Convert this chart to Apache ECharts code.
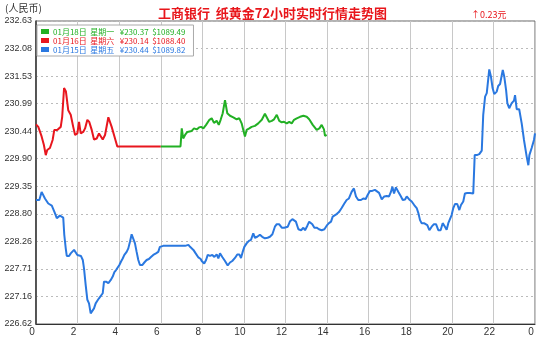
<!DOCTYPE html>
<html>
<head>
<meta charset="utf-8">
<script src="https://cdn.jsdelivr.net/npm/echarts@6/dist/echarts.min.js"></script>
<style>html,body{margin:0;padding:0;background:#fff}#c{width:545px;height:341px}</style>
</head>
<body>
<div id="c"></div>
<script>
var yTickLabels = ['226.62','227.16','227.71','228.26','228.80','229.35','229.90','230.44','230.99','231.53','232.08','232.63'];
var xTickLabels = ['0','2','4','6','8','10','12','14','16','18','20','22','0'];
var seriesNames = ['01月18日  星期一   ¥230.37  $1089.49','01月16日  星期六   ¥230.14  $1088.40','01月15日  星期五   ¥230.44  $1089.82'];

var redHours = [0,0.11,0.27,0.38,0.47,0.54,0.67,0.80,0.88,1.02,1.19,1.26,1.35,1.44,1.55,1.67,1.79,1.88,1.99,2.07,2.15,2.27,2.36,2.47,2.56,2.68,2.79,2.92,3.03,3.11,3.21,3.32,3.48,3.64,3.80,3.91,6.0];
var redValues = [230.58,230.53,230.34,230.17,229.97,230.07,230.11,230.27,230.47,230.47,230.53,230.73,231.30,231.23,230.86,230.77,230.53,230.37,230.40,230.63,230.40,230.43,230.50,230.67,230.63,230.47,230.28,230.30,230.40,230.37,230.28,230.37,230.72,230.53,230.30,230.14,230.14];

var greenHours = [6.0,6.95,7.01,7.08,7.17,7.28,7.37,7.49,7.60,7.73,7.84,7.94,8.05,8.18,8.34,8.45,8.56,8.69,8.79,8.88,8.98,9.09,9.20,9.33,9.49,9.65,9.78,9.89,9.97,10.05,10.13,10.26,10.37,10.53,10.69,10.86,11.01,11.10,11.21,11.34,11.45,11.58,11.70,11.82,11.93,12.06,12.18,12.30,12.41,12.54,12.70,12.86,13.02,13.14,13.31,13.50,13.63,13.74,13.85,13.90,13.98];
var greenValues = [230.14,230.14,230.50,230.30,230.37,230.43,230.40,230.45,230.50,230.48,230.52,230.53,230.50,230.57,230.67,230.70,230.61,230.65,230.57,230.67,230.80,231.06,230.80,230.75,230.72,230.68,230.70,230.60,230.47,230.34,230.47,230.50,230.53,230.55,230.60,230.67,230.79,230.77,230.63,230.65,230.68,230.77,230.65,230.62,230.63,230.60,230.63,230.60,230.67,230.70,230.73,230.75,230.73,230.68,230.57,230.47,230.50,230.57,230.48,230.35,230.37];

var bluePoints = [[0,229.08],[0.03,229.05],[0.16,229.08],[0.27,229.24],[0.35,229.21],[0.43,229.11],[0.51,229.06],[0.59,229.01],[0.67,228.99],[0.76,228.97],[0.83,228.90],[0.91,228.82],[1.00,228.72],[1.07,228.70],[1.15,228.77],[1.24,228.78],[1.31,228.73],[1.36,228.39],[1.43,228.12],[1.48,227.97],[1.59,227.97],[1.67,228.02],[1.75,228.05],[1.83,228.09],[1.91,228.09],[1.99,227.99],[2.07,227.97],[2.16,227.97],[2.25,227.89],[2.31,227.72],[2.39,227.39],[2.47,227.10],[2.55,227.03],[2.63,226.83],[2.67,226.80],[2.72,226.84],[2.79,226.93],[2.87,227.03],[2.95,227.08],[3.03,227.13],[3.11,227.16],[3.21,227.23],[3.27,227.46],[3.37,227.46],[3.48,227.43],[3.59,227.49],[3.69,227.56],[3.77,227.65],[3.85,227.69],[3.93,227.74],[4.01,227.79],[4.09,227.86],[4.17,227.92],[4.25,227.99],[4.36,228.05],[4.44,228.12],[4.52,228.25],[4.60,228.40],[4.68,228.42],[4.76,228.22],[4.84,228.05],[4.92,227.89],[5.00,227.79],[5.11,227.79],[5.21,227.84],[5.32,227.89],[5.43,227.91],[5.53,227.95],[5.64,227.99],[5.77,228.02],[5.88,228.05],[5.96,228.15],[6.12,228.17],[6.93,228.17],[7.01,228.20],[7.17,228.17],[7.33,228.19],[7.41,228.15],[7.57,228.09],[7.68,228.02],[7.81,227.94],[7.92,227.91],[7.97,227.87],[8.09,227.82],[8.18,227.89],[8.26,227.99],[8.37,227.97],[8.48,227.99],[8.58,227.95],[8.69,228.00],[8.77,227.92],[8.85,228.02],[8.96,227.95],[9.09,227.87],[9.22,227.78],[9.33,227.84],[9.44,227.87],[9.57,227.93],[9.68,228.00],[9.78,228.00],[9.86,227.93],[9.94,228.05],[10.02,228.15],[10.13,228.22],[10.24,228.27],[10.34,228.29],[10.45,228.42],[10.53,228.33],[10.64,228.35],[10.77,228.39],[10.88,228.35],[11.01,228.32],[11.14,228.33],[11.25,228.35],[11.37,228.40],[11.49,228.55],[11.58,228.60],[11.69,228.60],[11.82,228.53],[11.94,228.53],[12.11,228.55],[12.22,228.66],[12.33,228.70],[12.42,228.70],[12.50,228.65],[12.62,228.50],[12.75,228.48],[12.86,228.53],[12.94,228.48],[13.05,228.57],[13.14,228.65],[13.23,228.68],[13.29,228.60],[13.39,228.53],[13.50,228.53],[13.61,228.50],[13.74,228.48],[13.87,228.50],[13.98,228.57],[14.09,228.62],[14.19,228.65],[14.27,228.75],[14.35,228.73],[14.46,228.80],[14.57,228.84],[14.70,228.92],[14.83,229.01],[14.94,229.08],[15.05,229.11],[15.18,229.24],[15.29,229.31],[15.39,229.15],[15.50,229.08],[15.63,229.08],[15.74,229.11],[15.86,229.10],[15.95,229.18],[16.06,229.26],[16.17,229.26],[16.30,229.28],[16.39,229.31],[16.50,229.22],[16.63,229.09],[16.75,229.15],[16.87,229.16],[16.98,229.15],[17.07,229.24],[17.14,229.34],[17.22,229.21],[17.31,229.33],[17.43,229.24],[17.54,229.16],[17.64,229.08],[17.75,229.09],[17.83,229.15],[17.95,229.09],[18.07,229.05],[18.19,228.98],[18.31,228.92],[18.39,228.82],[18.47,228.68],[18.55,228.62],[18.66,228.62],[18.74,228.65],[18.82,228.58],[18.92,228.48],[19.03,228.55],[19.14,228.60],[19.24,228.60],[19.35,228.48],[19.46,228.48],[19.56,228.62],[19.67,228.55],[19.75,228.49],[19.83,228.62],[19.91,228.70],[19.99,228.78],[20.07,228.92],[20.15,229.00],[20.26,229.00],[20.36,228.88],[20.44,228.98],[20.55,229.05],[20.63,229.21],[20.74,229.22],[20.87,229.22],[20.96,229.24],[21.03,229.21],[21.10,229.97],[21.20,229.97],[21.32,229.99],[21.44,230.06],[21.51,230.77],[21.60,231.13],[21.68,231.20],[21.72,231.23],[21.80,231.67],[21.88,231.53],[21.96,231.30],[22.04,231.18],[22.16,231.23],[22.23,231.34],[22.32,231.38],[22.45,231.66],[22.52,231.53],[22.61,231.26],[22.67,231.00],[22.76,230.90],[22.88,231.00],[22.99,231.05],[23.04,231.16],[23.12,230.88],[23.24,230.88],[23.36,230.60],[23.47,230.27],[23.60,229.94],[23.68,229.77],[23.73,229.97],[23.84,230.11],[23.95,230.27],[24,230.40]];

function zip(a, b) { return a.map(function (v, i) { return [v, b[i]]; }); }

var yMin = parseFloat(yTickLabels[0]);
var yMax = parseFloat(yTickLabels[yTickLabels.length - 1]);
var yInt = (yMax - yMin) / (yTickLabels.length - 1);

var colGreen = '#22b024', colRed = '#e8161e', colBlue = '#2a78e0';

var chart = echarts.init(document.getElementById('c'), null, {renderer: 'canvas'});
chart.setOption({
  animation: false,
  backgroundColor: '#fff',
  title: [
    {text: '工商银行  纸黄金72小时实时行情走势图', left: 'center', top: 7, padding: 0,
     textStyle: {color: '#e8161b', fontSize: 13, fontWeight: 'bold', fontFamily: 'Noto Sans CJK SC'}},
    {text: '(人民币)', left: 5, top: 3, padding: 0,
     textStyle: {color: '#333', fontSize: 10, fontWeight: 'normal', fontFamily: 'Noto Sans CJK SC'}},
    {text: '↑0.23元', left: 471, top: 10, padding: 0,
     textStyle: {color: '#e8161b', fontSize: 9, fontWeight: 'normal', fontFamily: 'Noto Sans CJK SC'}}
  ],
  legend: {
    orient: 'vertical', left: 37, top: 25,
    itemWidth: 8, itemHeight: 5, itemGap: 0, icon: 'rect',
    padding: [2, 8, 2, 4],
    backgroundColor: '#fff', borderColor: '#aaa', borderWidth: 1,
    textStyle: {fontSize: 8, lineHeight: 9, padding: [0, 0, 0, -1], fontFamily: 'Noto Sans CJK SC'},
    data: [
      {name: seriesNames[0], textStyle: {color: colGreen}},
      {name: seriesNames[1], textStyle: {color: colRed}},
      {name: seriesNames[2], textStyle: {color: colBlue}}
    ]
  },
  grid: {left: 36, right: 10, top: 21, bottom: 17, show: true, borderColor: '#666', borderWidth: 1, backgroundColor: 'transparent'},
  xAxis: {
    type: 'value', min: 0, max: 24, interval: 2,
    axisLine: {show: true, lineStyle: {color: '#333', width: 1}},
    axisTick: {show: false},
    axisLabel: {color: '#333', fontSize: 10, fontFamily: 'Liberation Sans', margin: 3, padding: [0, 8, 0, 0],
      formatter: function (v) { return xTickLabels[Math.round(v / 2)]; }},
    splitLine: {show: true, lineStyle: {color: '#c8c8c8', width: 1, type: 'solid'}}
  },
  yAxis: {
    type: 'value', min: yMin, max: yMax, interval: yInt,
    axisLine: {show: true, lineStyle: {color: '#333', width: 1.5}},
    axisTick: {show: false},
    axisLabel: {color: '#333', fontSize: 9, fontFamily: 'Liberation Sans', margin: 4,
      formatter: function (v) { return yTickLabels[Math.round((v - yMin) / yInt)]; }},
    splitLine: {show: true, lineStyle: {color: '#bbb', width: 1, type: [2, 3]}}
  },
  series: [
    {name: seriesNames[2], type: 'line', data: bluePoints, showSymbol: false, symbol: 'none',
     lineStyle: {color: colBlue, width: 2}, itemStyle: {color: colBlue}},
    {name: seriesNames[1], type: 'line', data: zip(redHours, redValues), showSymbol: false, symbol: 'none',
     lineStyle: {color: colRed, width: 2}, itemStyle: {color: colRed}},
    {name: seriesNames[0], type: 'line', data: zip(greenHours, greenValues), showSymbol: false, symbol: 'none',
     lineStyle: {color: colGreen, width: 2}, itemStyle: {color: colGreen}}
  ]
});
</script>
</body>
</html>
